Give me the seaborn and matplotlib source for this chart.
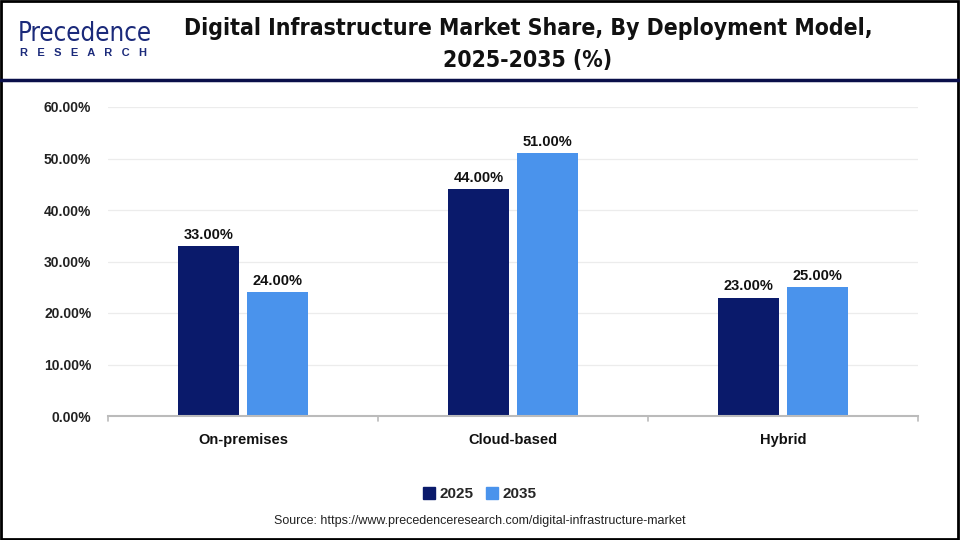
import matplotlib
matplotlib.use("Agg")
import matplotlib.pyplot as plt
import seaborn as sns
import pandas as pd
from matplotlib.patches import Rectangle
from matplotlib.lines import Line2D

categories = ["On-premises", "Cloud-based", "Hybrid"]
years = ["2025", "2035"]
values_2025 = [33.0, 44.0, 23.0]
values_2035 = [24.0, 51.0, 25.0]
colors = ["#0A1A6B", "#4A93EC"]

df = pd.DataFrame({
    "Deployment": categories * 2,
    "Year": [years[0]] * 3 + [years[1]] * 3,
    "Share": values_2025 + values_2035,
})

sns.set_theme(style="white")
plt.rcParams["font.family"] = ["Liberation Sans", "DejaVu Sans"]

fig = plt.figure(figsize=(9.6, 5.4), dpi=100)
ax = fig.add_axes([108 / 960, 124 / 540, 810 / 960, (416 - 107) / 540])

sns.barplot(data=df, x="Deployment", y="Share", hue="Year", order=categories,
            hue_order=years, palette=colors, width=0.511, gap=0.13,
            saturation=1, ax=ax, legend=False, linewidth=0)

ax.set_xlim(-0.5, 2.5)
ax.set_ylim(0, 60)
ax.set_yticks(range(0, 61, 10))
ax.set_yticklabels([f"{v:.2f}%" for v in range(0, 61, 10)], fontsize=10,
                   fontweight="bold", color="#222222")
ax.yaxis.grid(True, color="#ECECEC", linewidth=0.9)
ax.set_axisbelow(True)
ax.set_xlabel("")
ax.set_ylabel("")
ax.tick_params(axis="y", length=0, pad=12)
ax.set_xticks(range(3))
ax.set_xticklabels(categories, fontsize=10.5, fontweight="bold", color="#111111")
ax.tick_params(axis="x", length=0, pad=12)
for b in [-0.5, 0.5, 1.5, 2.5]:
    ax.plot([b, b], [0, -0.9], color="#BBBBBB", lw=1.2, clip_on=False)
for s in ["left", "right", "top"]:
    ax.spines[s].set_visible(False)
ax.spines["bottom"].set_color("#BBBBBB")
ax.spines["bottom"].set_linewidth(1.5)

for container in ax.containers:
    ax.bar_label(container, labels=[f"{v:.2f}%" for v in container.datavalues],
                 padding=3, fontsize=10.5, fontweight="bold", color="#111111")

# legend
handles = [Rectangle((0, 0), 1, 1, color=c) for c in colors]
fig.legend(handles, years, loc="center", bbox_to_anchor=(480 / 960, 1 - 494 / 540),
           ncol=2, frameon=False, handlelength=0.8, handleheight=0.8,
           handletextpad=0.3, columnspacing=0.8,
           prop={"weight": "bold", "size": 11})

# source
fig.text(480 / 960, 1 - 521 / 540,
         "Source: https://www.precedenceresearch.com/digital-infrastructure-market",
         ha="center", va="center", fontsize=9, color="#222222")

# title
fig.text(528 / 960, 1 - 29 / 540,
         "Digital Infrastructure Market Share, By Deployment Model,",
         ha="center", va="center", fontsize=16.5, fontweight="bold",
         family="DejaVu Sans", fontstretch="condensed", color="#111111")
fig.text(528 / 960, 1 - 60 / 540, "2025-2035 (%)",
         ha="center", va="center", fontsize=16.5, fontweight="bold",
         family="DejaVu Sans", fontstretch="condensed", color="#111111")

# logo
fig.text(18 / 960, 1 - 34 / 540, "Precedence", ha="left", va="center",
         fontsize=18.5, color="#1B2A7A", family="DejaVu Sans",
         fontstretch="condensed")
fig.text(20 / 960, 1 - 53 / 540, "R   E   S   E   A   R   C   H", ha="left",
         va="center", fontsize=8, fontweight="bold", color="#1B2A7A")

# header line and border
fig.add_artist(Line2D([0, 1], [1 - 80 / 540, 1 - 80 / 540], transform=fig.transFigure,
                      color="#0A0F4A", lw=2.5))
fig.add_artist(Rectangle((0.001, 0.002), 0.997, 0.996, transform=fig.transFigure,
                         fill=False, edgecolor="black", lw=2))

fig.savefig("out.png", dpi=100)
